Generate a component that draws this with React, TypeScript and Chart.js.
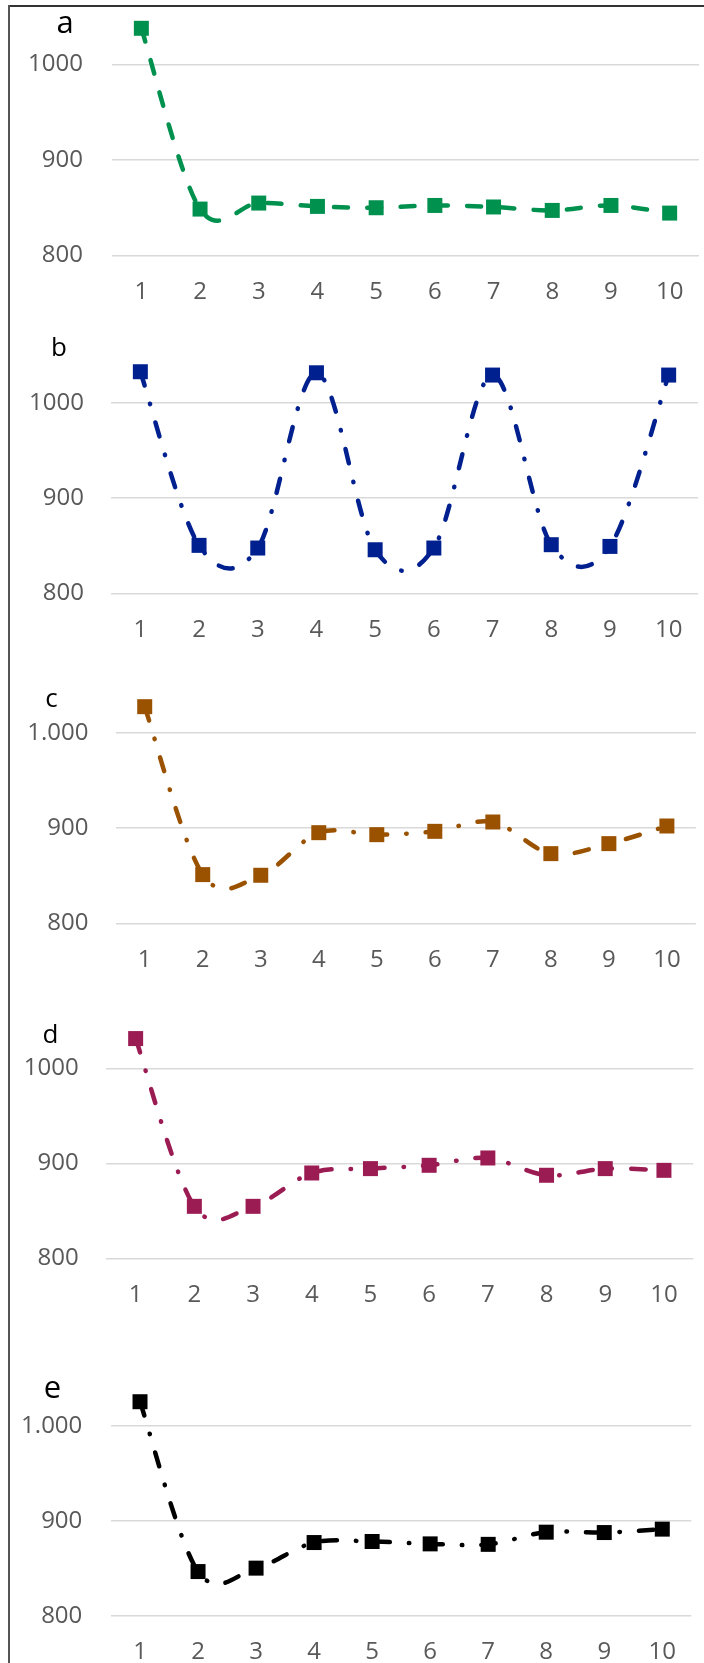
import React, { useEffect, useRef } from 'react';
import { Chart, registerables } from 'chart.js';

Chart.register(...registerables);

// ---------- data ----------
const categories = ['1', '2', '3', '4', '5', '6', '7', '8', '9', '10'];
const yTickValues = [800, 900, 1000];
const yTickLabelsPlain = ['800', '900', '1000'];
const yTickLabelsDotted = ['800', '900', '1.000'];

const seriesA = [1037.7, 848.4, 854.7, 851.2, 849.8, 852.2, 850.6, 847.0, 852.2, 844.2];
const seriesB = [1032.5, 850.3, 847.5, 1031.4, 845.7, 847.5, 1029.0, 851.0, 849.2, 1029.0];
const seriesC = [1027.3, 851.1, 850.4, 895.1, 893.0, 896.5, 906.3, 873.1, 883.6, 902.1];
const seriesD = [1031.3, 854.7, 854.7, 889.8, 894.4, 897.9, 905.6, 887.4, 894.4, 892.6];
const seriesE = [1025.2, 846.7, 850.3, 877.2, 878.3, 875.8, 875.3, 888.1, 887.7, 891.3];

const panelLetters = ['a', 'b', 'c', 'd', 'e'];
const panelSeries = [seriesA, seriesB, seriesC, seriesD, seriesE];
const panelTickLabels = [yTickLabelsPlain, yTickLabelsPlain, yTickLabelsDotted, yTickLabelsPlain, yTickLabelsDotted];

// ---------- styles / layout ----------
const panelColors = ['#00914F', '#00208F', '#9A5200', '#9B1B53', '#000000'];
const dashA = [14, 19.3];
const dashDot = [14.5, 19, 0.5, 19];
const panelDashes = [dashA, dashDot, dashDot, dashDot, dashDot];

const Y_MIN = 800;
const Y_MAX = 1060;
const X_AXIS_H = 44;
const TICK_FONT = 24;
const PAGE_W = 704;
const PAGE_H = 1663;

type Layout = {
  top: number; height: number; gridLeft: number; gridRight: number;
  y800: number; y1000: number; xLabelY: number; yLabelRight: number;
  letterX: number; letterBase: number; letterSize: number;
};

const layouts: Layout[] = [
  { top: 6, height: 312, gridLeft: 112, gridRight: 699, y800: 255.3, y1000: 64.3, xLabelY: 291.7, yLabelRight: 83, letterX: 65, letterBase: 33.5, letterSize: 31 },
  { top: 318, height: 332, gridLeft: 111, gridRight: 698, y800: 593.3, y1000: 402.7, xLabelY: 630, yLabelRight: 84, letterX: 59, letterBase: 356, letterSize: 26 },
  { top: 650, height: 335, gridLeft: 115.7, gridRight: 695.9, y800: 923.3, y1000: 732.7, xLabelY: 960, yLabelRight: 88.5, letterX: 51.6, letterBase: 707.3, letterSize: 26 },
  { top: 985, height: 355, gridLeft: 106.3, gridRight: 693.3, y800: 1258.3, y1000: 1068.3, xLabelY: 1295, yLabelRight: 78.6, letterX: 50.5, letterBase: 1043.3, letterSize: 26 },
  { top: 1340, height: 323, gridLeft: 111, gridRight: 691.3, y800: 1616, y1000: 1425.7, xLabelY: 1651.7, yLabelRight: 82.3, letterX: 52.5, letterBase: 1398.4, letterSize: 31 },
];

// Excel-style smoothing (uniform Catmull-Rom control points from the scale pixels)
const excelSmooth = {
  id: 'excelSmooth',
  beforeDatasetDraw(chart: any, args: any) {
    const meta = args.meta;
    const pts = meta.data;
    const n = pts.length;
    for (let i = 0; i < n; i++) {
      const p = pts[i];
      const prev = pts[Math.max(i - 1, 0)];
      const next = pts[Math.min(i + 1, n - 1)];
      const dx = (next.x - prev.x) / 6;
      const dy = (next.y - prev.y) / 6;
      p.cp1x = p.x - dx; p.cp1y = p.y - dy;
      p.cp2x = p.x + dx; p.cp2y = p.y + dy;
    }
    if (meta.dataset) {
      meta.dataset._pointsUpdated = true;
      meta.dataset._path = undefined;
    }
  },
};

function zeroPad(s: any) {
  s.paddingTop = 0; s.paddingBottom = 0; s.paddingLeft = 0; s.paddingRight = 0;
}

function Panel({ index }: { index: number }) {
  const ref = useRef<HTMLCanvasElement | null>(null);
  const L = layouts[index];
  useEffect(() => {
    if (!ref.current) return;
    const ppu = (L.y800 - L.y1000) / 200;
    const chartTop = L.y800 - (Y_MAX - Y_MIN) * ppu;
    const labels = panelTickLabels[index];
    const chart = new Chart(ref.current, {
      type: 'line',
      data: {
        labels: categories,
        datasets: [{
          data: panelSeries[index],
          borderColor: panelColors[index],
          backgroundColor: panelColors[index],
          borderWidth: 4.5,
          borderDash: panelDashes[index],
          borderCapStyle: 'round',
          borderJoinStyle: 'round',
          tension: 0.4,
          fill: false,
          pointStyle: 'rect',
          pointRadius: 10.6,
          pointHoverRadius: 10.6,
          pointBorderWidth: 0,
          pointBackgroundColor: panelColors[index],
          clip: false,
        } as any],
      },
      options: {
        animation: false,
        responsive: false,
        devicePixelRatio: 1,
        events: [],
        layout: {
          autoPadding: false,
          padding: {
            top: chartTop - L.top,
            bottom: L.top + L.height - L.y800 - X_AXIS_H,
            left: 0,
            right: PAGE_W - L.gridRight,
          },
        },
        plugins: { legend: { display: false }, tooltip: { enabled: false }, title: { display: false } },
        scales: {
          x: {
            type: 'category',
            offset: true,
            grid: { display: false, drawTicks: false },
            border: { display: false },
            ticks: {
              padding: L.xLabelY - L.y800 - (TICK_FONT * 1.2) / 2,
              color: '#595959',
              font: { family: "'Open Sans', sans-serif", size: TICK_FONT },
              maxRotation: 0,
              autoSkip: false,
            },
            afterFit: (s: any) => { s.height = X_AXIS_H; zeroPad(s); },
          },
          y: {
            type: 'linear',
            min: Y_MIN,
            max: Y_MAX,
            grid: { color: '#D9D9D9', lineWidth: 1.5, drawTicks: false },
            border: { display: false },
            afterBuildTicks: (s: any) => { s.ticks = yTickValues.map((v) => ({ value: v })); },
            ticks: {
              padding: L.gridLeft - L.yLabelRight,
              color: '#595959',
              font: { family: "'Open Sans', sans-serif", size: TICK_FONT },
              callback: (value: any) => labels[yTickValues.indexOf(Number(value))] ?? '',
            },
            afterFit: (s: any) => { s.width = L.gridLeft; zeroPad(s); },
          },
        },
      } as any,
      plugins: [excelSmooth],
    });
    return () => chart.destroy();
  }, [index]);

  return (
    <>
      <canvas
        ref={ref}
        width={PAGE_W}
        height={L.height}
        style={{ position: 'absolute', left: 0, top: L.top, width: PAGE_W, height: L.height, display: 'block' }}
      />
      <div
        style={{
          position: 'absolute',
          left: L.letterX,
          top: L.letterBase - 0.888 * L.letterSize,
          transform: 'translateX(-50%)',
          fontFamily: "'Open Sans', sans-serif",
          fontSize: L.letterSize,
          lineHeight: 1,
          color: '#000',
          whiteSpace: 'nowrap',
        }}
      >
        {panelLetters[index]}
      </div>
    </>
  );
}

export default function App() {
  return (
    <div style={{ position: 'absolute', left: 0, top: 0, width: PAGE_W, height: PAGE_H, background: '#fff', overflow: 'hidden' }}>
      {layouts.map((_, i) => (
        <Panel key={i} index={i} />
      ))}
      <div style={{ position: 'absolute', left: 8, top: 5, right: 0, height: 2, background: '#333' }} />
      <div style={{ position: 'absolute', left: 8, top: 5, bottom: 0, width: 1.5, background: '#555' }} />
    </div>
  );
}
